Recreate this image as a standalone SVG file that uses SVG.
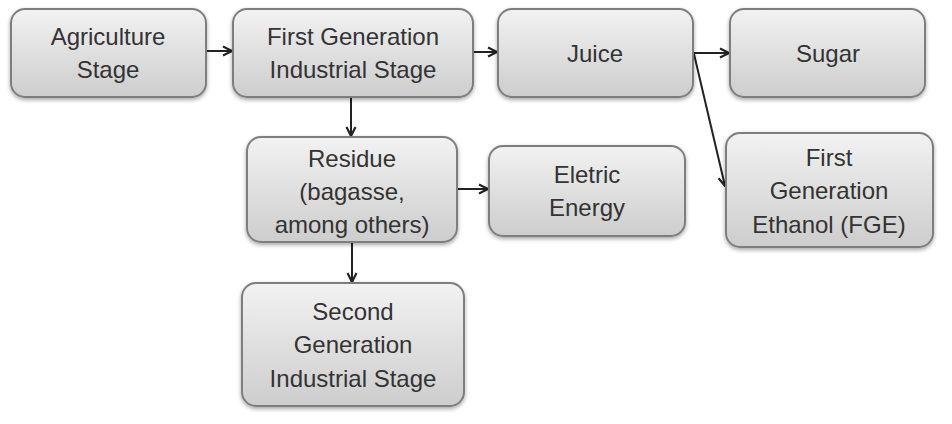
<svg xmlns="http://www.w3.org/2000/svg" width="952" height="424" viewBox="0 0 952 424">
<defs>
<linearGradient id="g" x1="0" y1="0" x2="0" y2="1">
<stop offset="0" stop-color="#f2f2f2"/>
<stop offset="1" stop-color="#cdcdcd"/>
</linearGradient>
<filter id="sh" x="-10%" y="-10%" width="120%" height="130%">
<feGaussianBlur in="SourceAlpha" stdDeviation="2"/>
<feOffset dx="0" dy="2" result="b"/>
<feComponentTransfer><feFuncA type="linear" slope="0.35"/></feComponentTransfer>
<feMerge><feMergeNode/><feMergeNode in="SourceGraphic"/></feMerge>
</filter>
<marker id="ah" viewBox="0 0 12 12" refX="11" refY="6" markerWidth="12" markerHeight="12" markerUnits="userSpaceOnUse" orient="auto">
<path d="M2,1.5 L11,6 L2,10.5" fill="none" stroke="#222" stroke-width="2.2"/>
</marker>
</defs>
<style>
.box{fill:url(#g);stroke:#7e7e7e;stroke-width:2;filter:url(#sh)}
.t{font-family:"Liberation Sans",Arial,sans-serif;font-size:24px;fill:#333333;text-anchor:middle}
.c{stroke:#222;stroke-width:2;fill:none;marker-end:url(#ah)}
</style>
<rect width="952" height="424" fill="#ffffff"/>
<g id="connectors">
<line class="c" x1="206" y1="51" x2="232" y2="51"/>
<line class="c" x1="473" y1="52" x2="497" y2="52"/>
<line class="c" x1="693" y1="53" x2="729" y2="53"/>
<line class="c" x1="694" y1="54" x2="725" y2="186"/>
<line class="c" x1="351" y1="97" x2="351" y2="136"/>
<line class="c" x1="457" y1="189" x2="488" y2="189"/>
<line class="c" x1="352" y1="242" x2="352" y2="282"/>
</g>
<g id="agriculture">
<rect class="box" x="11" y="9" width="195" height="88" rx="14"/>
<text class="t" x="108" y="45">Agriculture</text>
<text class="t" x="108" y="78">Stage</text>
</g>
<g id="first-gen-industrial">
<rect class="box" x="233" y="9" width="240" height="88" rx="14"/>
<text class="t" x="353" y="45">First Generation</text>
<text class="t" x="353" y="78">Industrial Stage</text>
</g>
<g id="juice">
<rect class="box" x="498" y="9" width="195" height="88" rx="14"/>
<text class="t" x="595" y="62">Juice</text>
</g>
<g id="sugar">
<rect class="box" x="730" y="9" width="195" height="88" rx="14"/>
<text class="t" x="828" y="62">Sugar</text>
</g>
<g id="residue">
<rect class="box" x="247" y="137" width="210" height="105" rx="14"/>
<text class="t" x="352" y="167">Residue</text>
<text class="t" x="352" y="200">(bagasse,</text>
<text class="t" x="352" y="233">among others)</text>
</g>
<g id="eletric-energy">
<rect class="box" x="489" y="146" width="196" height="90" rx="14"/>
<text class="t" x="587" y="183">Eletric</text>
<text class="t" x="587" y="216">Energy</text>
</g>
<g id="fge">
<rect class="box" x="726" y="133" width="207" height="114" rx="14"/>
<text class="t" x="829" y="166">First</text>
<text class="t" x="829" y="199">Generation</text>
<text class="t" x="829" y="233">Ethanol (FGE)</text>
</g>
<g id="second-gen">
<rect class="box" x="242" y="283" width="222" height="123" rx="14"/>
<text class="t" x="353" y="320">Second</text>
<text class="t" x="353" y="353">Generation</text>
<text class="t" x="353" y="387">Industrial Stage</text>
</g>
</svg>
